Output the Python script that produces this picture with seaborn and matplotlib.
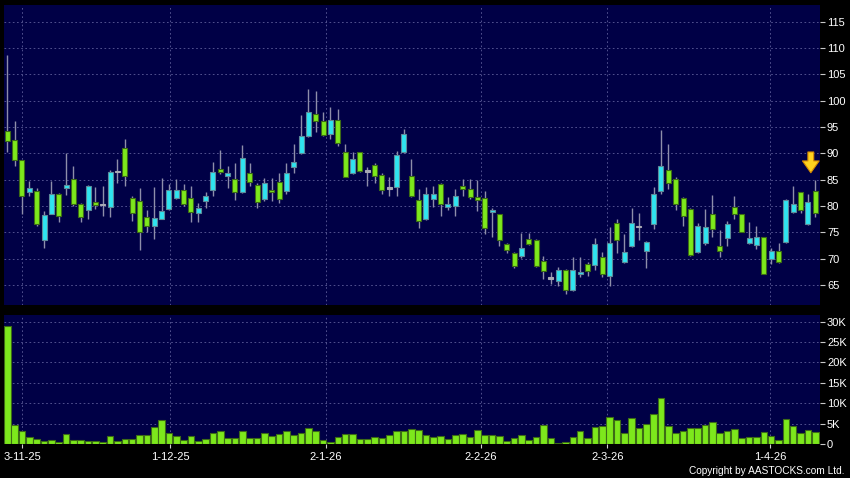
"""Candlestick chart with volume panel, AASTOCKS style."""
import matplotlib
matplotlib.use("Agg")
import matplotlib.pyplot as plt
import numpy as np
import pandas as pd
import seaborn as sns

# daily OHLC, oldest first
open_ = [94.3, 92.6, 88.7, 82.7, 82.9, 73.6, 78.5, 82.3, 83.5, 85.2,
         80.4, 79.2, 80.8, 80.3, 79.9, 86.6, 91.1, 81.6, 81.0, 78.0,
         76.3, 77.6, 79.4, 81.6, 83.0, 81.5, 78.7, 81.0, 83.0, 87.1,
         85.7, 85.2, 82.7, 86.2, 84.0, 81.3, 83.1, 84.6, 82.9, 87.5,
         90.0, 93.3, 97.4, 96.1, 93.6, 96.3, 90.2, 86.3, 90.2, 86.7,
         87.8, 85.9, 83.4, 83.7, 90.3, 85.7, 81.1, 77.6, 81.3, 84.2,
         79.8, 80.0, 83.9, 83.3, 81.7, 81.5, 78.9, 78.4, 72.8, 71.1,
         70.5, 73.8, 73.6, 69.6, 66.3, 65.7, 67.9, 64.1, 67.0, 68.9,
         68.8, 70.4, 66.8, 76.8, 69.4, 72.5, 76.1, 71.5, 76.5, 82.9,
         86.9, 85.1, 81.6, 79.4, 71.2, 72.9, 78.4, 72.5, 73.9, 79.9,
         78.4, 72.9, 72.6, 74.1, 70.0, 71.5, 73.1, 78.8, 82.6, 76.6,
         82.9]
high = [108.7, 96.1, 88.8, 84.8, 83.5, 79.0, 84.7, 82.5, 90.0, 87.7,
        80.6, 84.0, 83.7, 83.8, 86.9, 88.9, 92.8, 82.0, 83.5, 79.2,
        83.7, 85.4, 84.1, 85.1, 84.2, 83.8, 80.6, 82.7, 88.4, 90.7,
        87.7, 88.1, 91.6, 88.1, 84.4, 85.4, 85.4, 86.3, 88.1, 91.7,
        97.3, 102.3, 101.8, 97.8, 98.9, 98.5, 91.7, 90.2, 90.3, 87.5,
        88.1, 86.3, 85.6, 90.5, 94.6, 88.9, 83.2, 83.6, 83.9, 84.3,
        81.8, 83.3, 85.2, 85.2, 84.9, 82.8, 79.7, 78.5, 73.0, 71.3,
        74.9, 74.9, 73.8, 70.6, 67.5, 68.4, 68.1, 70.4, 70.4, 69.4,
        73.9, 71.3, 76.0, 77.6, 74.7, 79.7, 78.7, 73.4, 83.6, 94.5,
        91.8, 85.5, 81.8, 79.6, 76.7, 79.4, 82.1, 75.4, 77.2, 81.9,
        78.5, 77.0, 76.2, 74.2, 72.0, 72.9, 81.3, 83.8, 82.7, 82.3,
        84.9]
low = [90.3, 87.6, 78.4, 81.9, 76.3, 72.1, 78.4, 77.0, 82.1, 80.0,
       77.0, 77.5, 79.4, 78.2, 78.0, 84.4, 83.8, 77.1, 71.6, 75.0,
       73.8, 77.5, 79.2, 81.3, 80.0, 77.0, 77.0, 79.7, 81.9, 86.0,
       83.5, 81.1, 82.5, 83.8, 79.7, 81.0, 81.0, 80.6, 82.2, 86.3,
       89.8, 93.1, 94.1, 93.3, 92.8, 91.4, 85.5, 86.1, 86.5, 83.8,
       84.3, 82.2, 81.9, 81.9, 90.1, 81.8, 75.9, 77.4, 79.9, 78.1,
       79.3, 78.1, 82.0, 81.4, 79.1, 74.6, 74.1, 72.4, 71.1, 68.3,
       70.2, 72.6, 68.4, 66.2, 65.1, 64.9, 63.2, 63.9, 66.5, 66.8,
       67.8, 66.5, 64.9, 71.1, 69.1, 72.3, 73.5, 68.2, 75.6, 82.3,
       83.3, 79.2, 76.2, 70.5, 71.0, 72.6, 74.2, 70.4, 72.4, 77.6,
       75.0, 72.8, 71.8, 67.0, 69.0, 69.1, 73.0, 78.6, 78.7, 76.4,
       78.0]
close = [92.3, 88.8, 81.9, 83.5, 76.6, 78.3, 82.3, 78.2, 84.0, 80.4,
         78.0, 83.8, 80.2, 80.3, 86.5, 86.6, 85.7, 78.7, 75.1, 76.3,
         77.8, 79.0, 83.0, 83.0, 80.4, 78.9, 79.7, 82.0, 86.5, 86.5,
         86.2, 82.7, 89.2, 84.6, 80.8, 84.4, 82.7, 81.3, 86.3, 88.4,
         93.3, 97.8, 96.2, 93.5, 96.3, 91.9, 85.6, 89.0, 86.7, 86.7,
         85.7, 83.0, 83.4, 89.7, 93.7, 82.0, 77.2, 82.3, 82.2, 80.3,
         80.4, 82.0, 83.2, 81.8, 81.2, 75.9, 79.3, 73.5, 71.6, 68.7,
         72.1, 72.8, 68.7, 67.6, 66.3, 67.9, 64.0, 67.9, 67.5, 67.6,
         72.8, 67.0, 73.0, 73.6, 71.2, 76.7, 76.1, 73.1, 82.2, 87.6,
         84.3, 80.3, 78.2, 70.7, 76.2, 76.1, 75.6, 71.5, 76.5, 78.4,
         75.1, 73.9, 74.2, 67.1, 71.5, 69.3, 81.2, 80.4, 79.2, 80.8,
         78.6]
# volume in thousands of shares
volume_k = [28.9, 4.7, 3.1, 1.6, 1.3, 0.8, 1.0, 0.6, 2.5, 1.0,
            1.1, 0.7, 0.8, 0.6, 2.0, 0.8, 1.3, 1.3, 2.2, 2.1,
            4.1, 5.9, 2.6, 1.9, 1.1, 1.9, 0.8, 1.3, 2.8, 3.1,
            1.5, 1.5, 3.2, 1.5, 1.5, 2.7, 2.0, 2.4, 3.2, 2.1,
            2.6, 4.0, 3.1, 1.1, 0.4, 1.8, 2.4, 2.5, 1.2, 1.2,
            1.6, 1.5, 2.2, 3.3, 3.3, 3.7, 3.5, 2.3, 1.7, 1.9,
            1.3, 2.2, 2.5, 1.8, 3.5, 2.3, 2.3, 1.9, 0.7, 1.4,
            2.2, 1.0, 1.7, 4.6, 1.5, 0.2, 0.6, 1.6, 3.3, 1.5,
            4.2, 4.5, 6.7, 5.9, 2.7, 6.3, 3.9, 4.9, 7.3, 11.2,
            4.5, 2.8, 3.3, 3.9, 3.9, 4.6, 5.4, 2.8, 3.3, 3.6,
            1.4, 1.6, 1.6, 3.0, 2.0, 1.1, 6.1, 4.3, 2.8, 3.4,
            3.0]

date_ticks = [2.0, 22.2, 43.4, 64.5, 81.7, 103.9]
date_labels = ["3-11-25", "1-12-25", "2-1-26", "2-2-26", "2-3-26", "1-4-26"]
price_ticks = [65, 70, 75, 80, 85, 90, 95, 100, 105, 110, 115]
vol_ticks = [0, 5, 10, 15, 20, 25, 30]
vol_labels = ["0", "5K", "10K", "15K", "20K", "25K", "30K"]

NAVY = "#000046"
UP_FILL, UP_EDGE = "#2fe4f0", "#5d8a9a"
DOWN_FILL, DOWN_EDGE = "#7de81c", "#3d6c16"
DOJI = "#a8a8b4"
WICK = "#8e8eaa"
GRID = "#5e5e9a"
GRID_LS = (0, (2, 3))

sns.set_style("dark", {"axes.facecolor": NAVY, "figure.facecolor": "black"})
plt.rcParams["font.family"] = ["Liberation Sans", "DejaVu Sans"]

df = pd.DataFrame({"open": open_, "high": high, "low": low,
                   "close": close, "volume": volume_k})
df["idx"] = np.arange(len(df))
up = df["close"] > df["open"]
down = df["close"] < df["open"]
body_lo = np.minimum(df["open"], df["close"])
body_h = np.maximum((df["close"] - df["open"]).abs(), 0.3)
body_lo = np.where(up | down, body_lo, df["open"] - 0.15)
fills = np.where(up, UP_FILL, np.where(down, DOWN_FILL, DOJI))
edges = np.where(up, UP_EDGE, np.where(down, DOWN_EDGE, DOJI))

fig = plt.figure(figsize=(8.5, 4.78), dpi=100, facecolor="black")
ax = fig.add_axes([4 / 850, 1 - 305 / 478, 816 / 850, 300 / 478])
axv = fig.add_axes([4 / 850, 1 - 444 / 478, 816 / 850, 129 / 478])
xlim = (-0.45, len(df) - 0.35)

# price panel
ax.vlines(df["idx"], df["low"], df["high"], color=WICK, lw=1, zorder=2)
ax.bar(df["idx"], body_h, bottom=body_lo, width=0.68, color=fills,
       edgecolor=edges, linewidth=0.8, zorder=3)
last = df.iloc[-1]
ax.annotate("", xy=(last["idx"] - 0.6, last["high"] + 0.9),
            xytext=(last["idx"] - 0.6, last["high"] + 5.9),
            arrowprops=dict(arrowstyle="simple,head_width=1.2,head_length=0.85,tail_width=0.42",
                            fc="#ffd21f", ec="#d88a00", lw=0.8), zorder=5)
ax.set_xlim(*xlim)
ax.set_ylim(61.2, 118.2)
ax.set_yticks(price_ticks)
ax.set_xticks(date_ticks)
ax.set_xticklabels([])
ax.tick_params(axis="x", length=0)

# volume panel
sns.barplot(data=df, x="idx", y="volume", color=DOWN_FILL, saturation=1,
            edgecolor=DOWN_EDGE, linewidth=0.8, width=0.9, errorbar=None,
            ax=axv)
axv.set_xlim(*xlim)
axv.set_ylim(0, 31.64)
axv.set_yticks(vol_ticks)
axv.set_yticklabels(vol_labels)
axv.set_xticks(date_ticks)
axv.set_xticklabels(date_labels)
axv.set_xlabel("")
axv.set_ylabel("")
axv.tick_params(axis="x", length=3, width=0.8, colors="#d0d0d0",
                labelcolor="white", labelsize=8, pad=3, bottom=True)

for a in (ax, axv):
    a.set_facecolor(NAVY)
    a.yaxis.tick_right()
    a.tick_params(axis="y", length=3.5, width=0.8, colors="#c8c8c8",
                  labelcolor="white", labelsize=8, pad=1.5, right=True)
    a.grid(True, color=GRID, linestyle=GRID_LS, linewidth=0.6)
    a.set_axisbelow(True)
    for s in a.spines.values():
        s.set_visible(False)

fig.text(0.994, 0.0146, "Copyright by AASTOCKS.com Ltd.", color="white",
         fontsize=7.3, ha="right", va="center")

fig.savefig("out.png", dpi=100, facecolor="black")
